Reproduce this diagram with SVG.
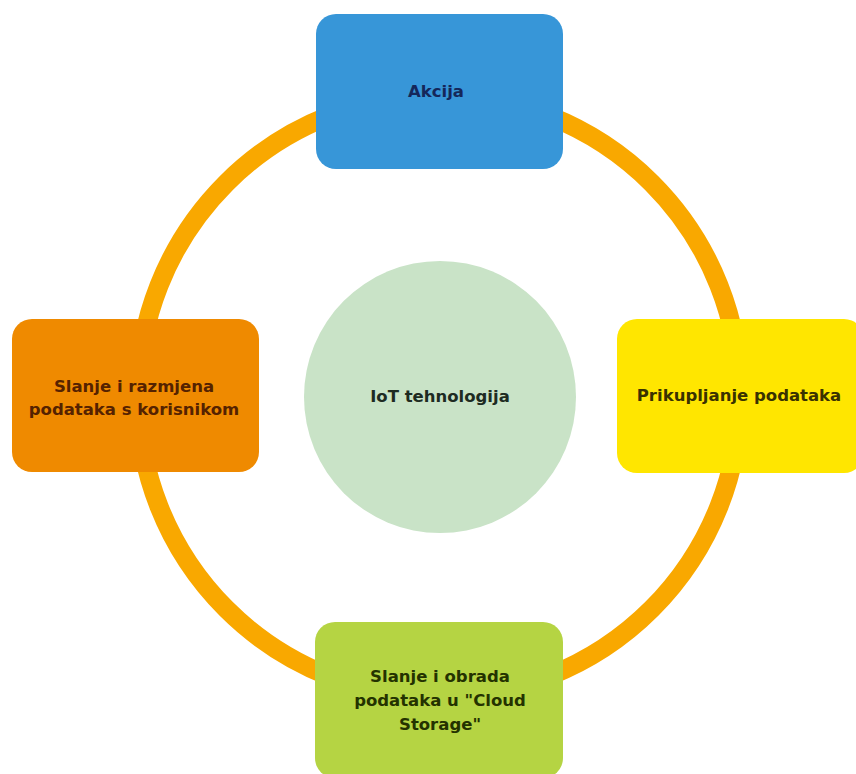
<svg xmlns="http://www.w3.org/2000/svg" width="856" height="774" viewBox="0 0 856 774">
<style>
text{font-family:"DejaVu Sans","Verdana",sans-serif;font-weight:bold;font-size:16.5px;text-anchor:middle}
.box{stroke:none}
</style>
<rect width="856" height="774" fill="#ffffff"/>
<g id="connectors">
<circle cx="439" cy="396" r="301" fill="none" stroke="#F9A800" stroke-width="19"/>
</g>
<g id="center">
<circle cx="440" cy="397" r="136" fill="#C9E3C7"/>
<text x="440" y="402" fill="#1d2b22">IoT tehnologija</text>
</g>
<g id="akcija">
<rect class="box" x="316" y="14" width="247" height="155" rx="20" fill="#3796D8"/>
<text x="436" y="97" fill="#15275a">Akcija</text>
</g>
<g id="prikupljanje">
<rect class="box" x="617" y="319" width="247" height="154" rx="20" fill="#FFE600"/>
<text x="739" y="401" fill="#3a3200">Prikupljanje podataka</text>
</g>
<g id="cloud">
<rect class="box" x="315" y="622" width="248" height="156" rx="20" fill="#B5D443"/>
<text x="440" y="682" fill="#243200">Slanje i obrada</text>
<text x="440" y="706" fill="#243200">podataka u "Cloud</text>
<text x="440" y="730" fill="#243200">Storage"</text>
</g>
<g id="slanje">
<rect class="box" x="12" y="319" width="247" height="153" rx="20" fill="#EF8A00"/>
<text x="134" y="392" fill="#552200">Slanje i razmjena</text>
<text x="134" y="415" fill="#552200">podataka s korisnikom</text>
</g>
</svg>
